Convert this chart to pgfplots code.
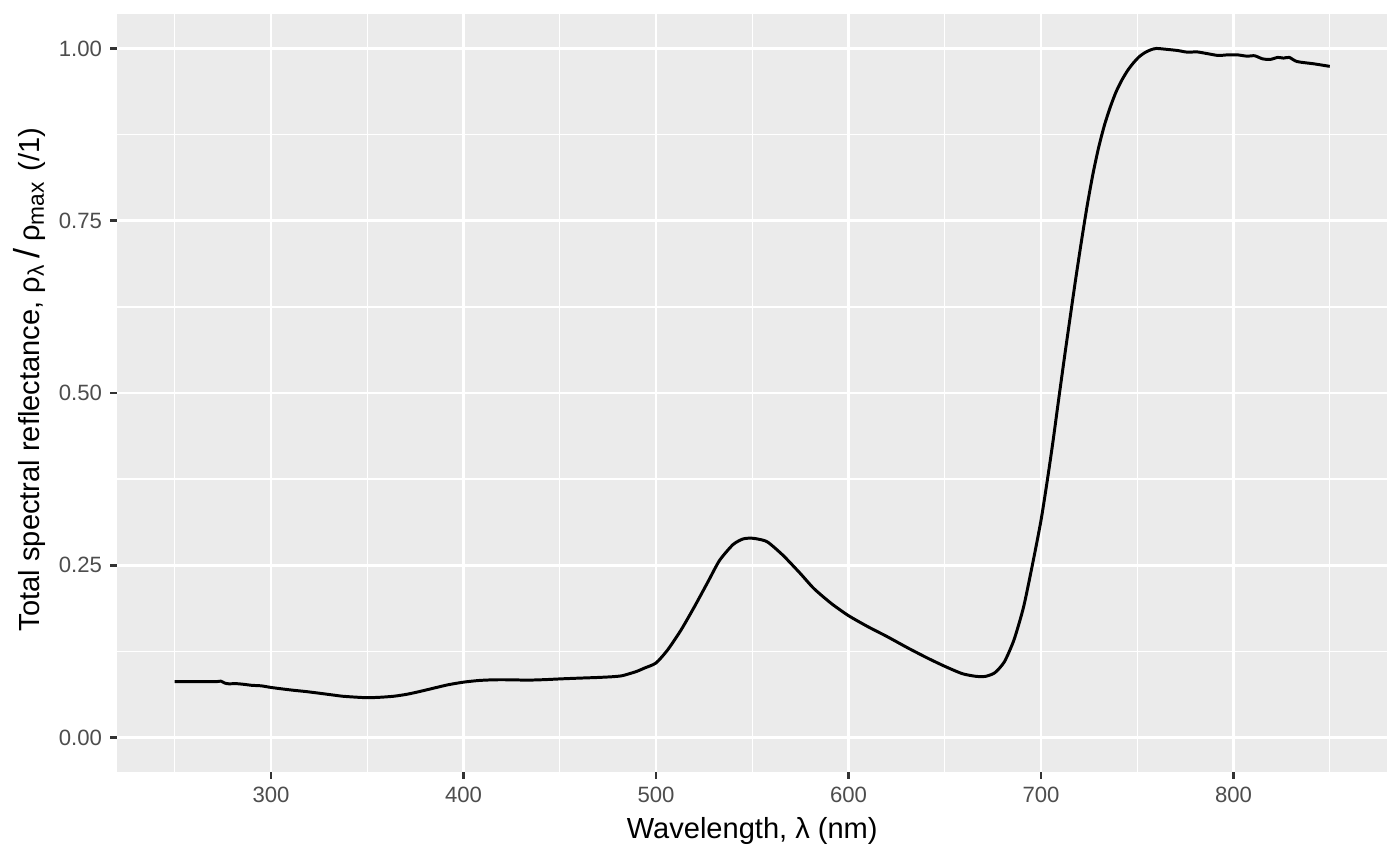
\documentclass[border=0pt]{standalone}
\usepackage{fontspec}
\setmainfont{Liberation Sans}
\usepackage{pgfplots}
\usepackage{pgfplotstable}
\pgfplotsset{compat=1.18}
\definecolor{panelbg}{HTML}{EBEBEB}
\definecolor{grey30}{HTML}{4D4D4D}
\definecolor{grey20}{HTML}{333333}

\pgfplotstableread{
wl refl
250 0.0812
260 0.0812
270 0.0810
272 0.0812
274 0.0818
276 0.0790
278 0.0780
282 0.0782
286 0.0772
290 0.0758
295 0.0750
300 0.0727
306 0.0705
312 0.0685
318 0.0668
326 0.0640
332 0.0618
337 0.0600
343 0.0588
350 0.0578
357 0.0585
364 0.0600
371 0.0630
378 0.0673
385 0.0720
392 0.0766
400 0.0804
408 0.0828
416 0.0838
425 0.0838
433 0.0833
442 0.0840
451 0.0852
460 0.0862
470 0.0872
477 0.0882
482 0.0895
486 0.0925
490 0.0960
494 0.1008
500 0.1082
506 0.1270
513 0.1560
520 0.1900
527 0.2260
533 0.2570
540 0.2800
545 0.2880
549 0.2894
553 0.2880
558 0.2837
566 0.2644
575 0.2380
582 0.2163
591 0.1947
600 0.1769
610 0.1610
620 0.1466
631 0.1298
641 0.1154
650 0.1034
659 0.0928
666 0.0889
671 0.0887
676 0.0940
681 0.1100
686 0.1420
691 0.1900
696 0.2570
700 0.3150
703 0.3680
706 0.4250
709 0.4870
712 0.5480
715 0.6070
718 0.6650
721 0.7200
724 0.7720
727 0.8180
730 0.8570
733 0.8890
736 0.9150
739 0.9370
742 0.9540
745 0.9680
748 0.9790
751 0.9880
754 0.9940
757 0.9980
760 1.0000
766 0.9985
771 0.9970
776 0.9946
781 0.9950
786 0.9927
792 0.9898
797 0.9907
802 0.9907
807 0.9888
811 0.9894
815 0.9850
819 0.9840
823 0.9870
826 0.9860
829 0.9870
833 0.9810
842 0.9776
850 0.9740
}\spectrum

\newcommand{\sub}[1]{\raisebox{-0.3ex}{\fontsize{8.2}{9.5}\selectfont #1}}

\begin{document}
\begin{tikzpicture}
\useasboundingbox (-42.12bp,-33.84bp) rectangle (461.88bp,277.92bp);
\begin{axis}[
  scale only axis,
  width=457.38bp, height=272.88bp,
  xmin=220, xmax=880, ymin=-0.05, ymax=1.05,
  axis background/.style={fill=panelbg},
  axis line style={draw=none},
  xtick={300,400,500,600,700,800},
  xticklabels={300,400,500,600,700,800},
  ytick={0,0.25,0.5,0.75,1},
  yticklabels={0.00,0.25,0.50,0.75,1.00},
  minor xtick={250,350,450,550,650,750,850},
  minor ytick={0.125,0.375,0.625,0.875},
  grid=both,
  major grid style={white, line width=0.97bp},
  minor grid style={white, line width=0.49bp},
  tick align=outside,
  xtick pos=bottom, ytick pos=left,
  major tick length=2.5pt, minor tick length=0pt,
  major tick style={grey20, line width=0.97bp},
  ticklabel style={font=\fontsize{8}{9.6}\selectfont, text=grey30, inner sep=0pt},
  xticklabel style={anchor=north, yshift=-2.55bp},
  yticklabel style={anchor=east, xshift=-2.7bp},
  xlabel={Wavelength, λ (nm)},
  ylabel={Total spectral reflectance, ρ\sub{λ}\hspace{2.5pt}{\fontsize{13}{15}\selectfont /}\hspace{2.5pt}ρ\sub{max}\hspace{1pt} (/1)},
  label style={font=\fontsize{10.5}{12.6}\selectfont, inner sep=0pt, text=black},
  xlabel style={at={(axis description cs:0.5,-0.0874)}, anchor=base},
  ylabel style={at={(axis description cs:-0.0612,0.5178)}, anchor=base},
]
\addplot[black, line width=1.07bp, line join=round, no markers, smooth, tension=0.4] table[x=wl, y=refl] {\spectrum};
\end{axis}
\end{tikzpicture}
\end{document}
